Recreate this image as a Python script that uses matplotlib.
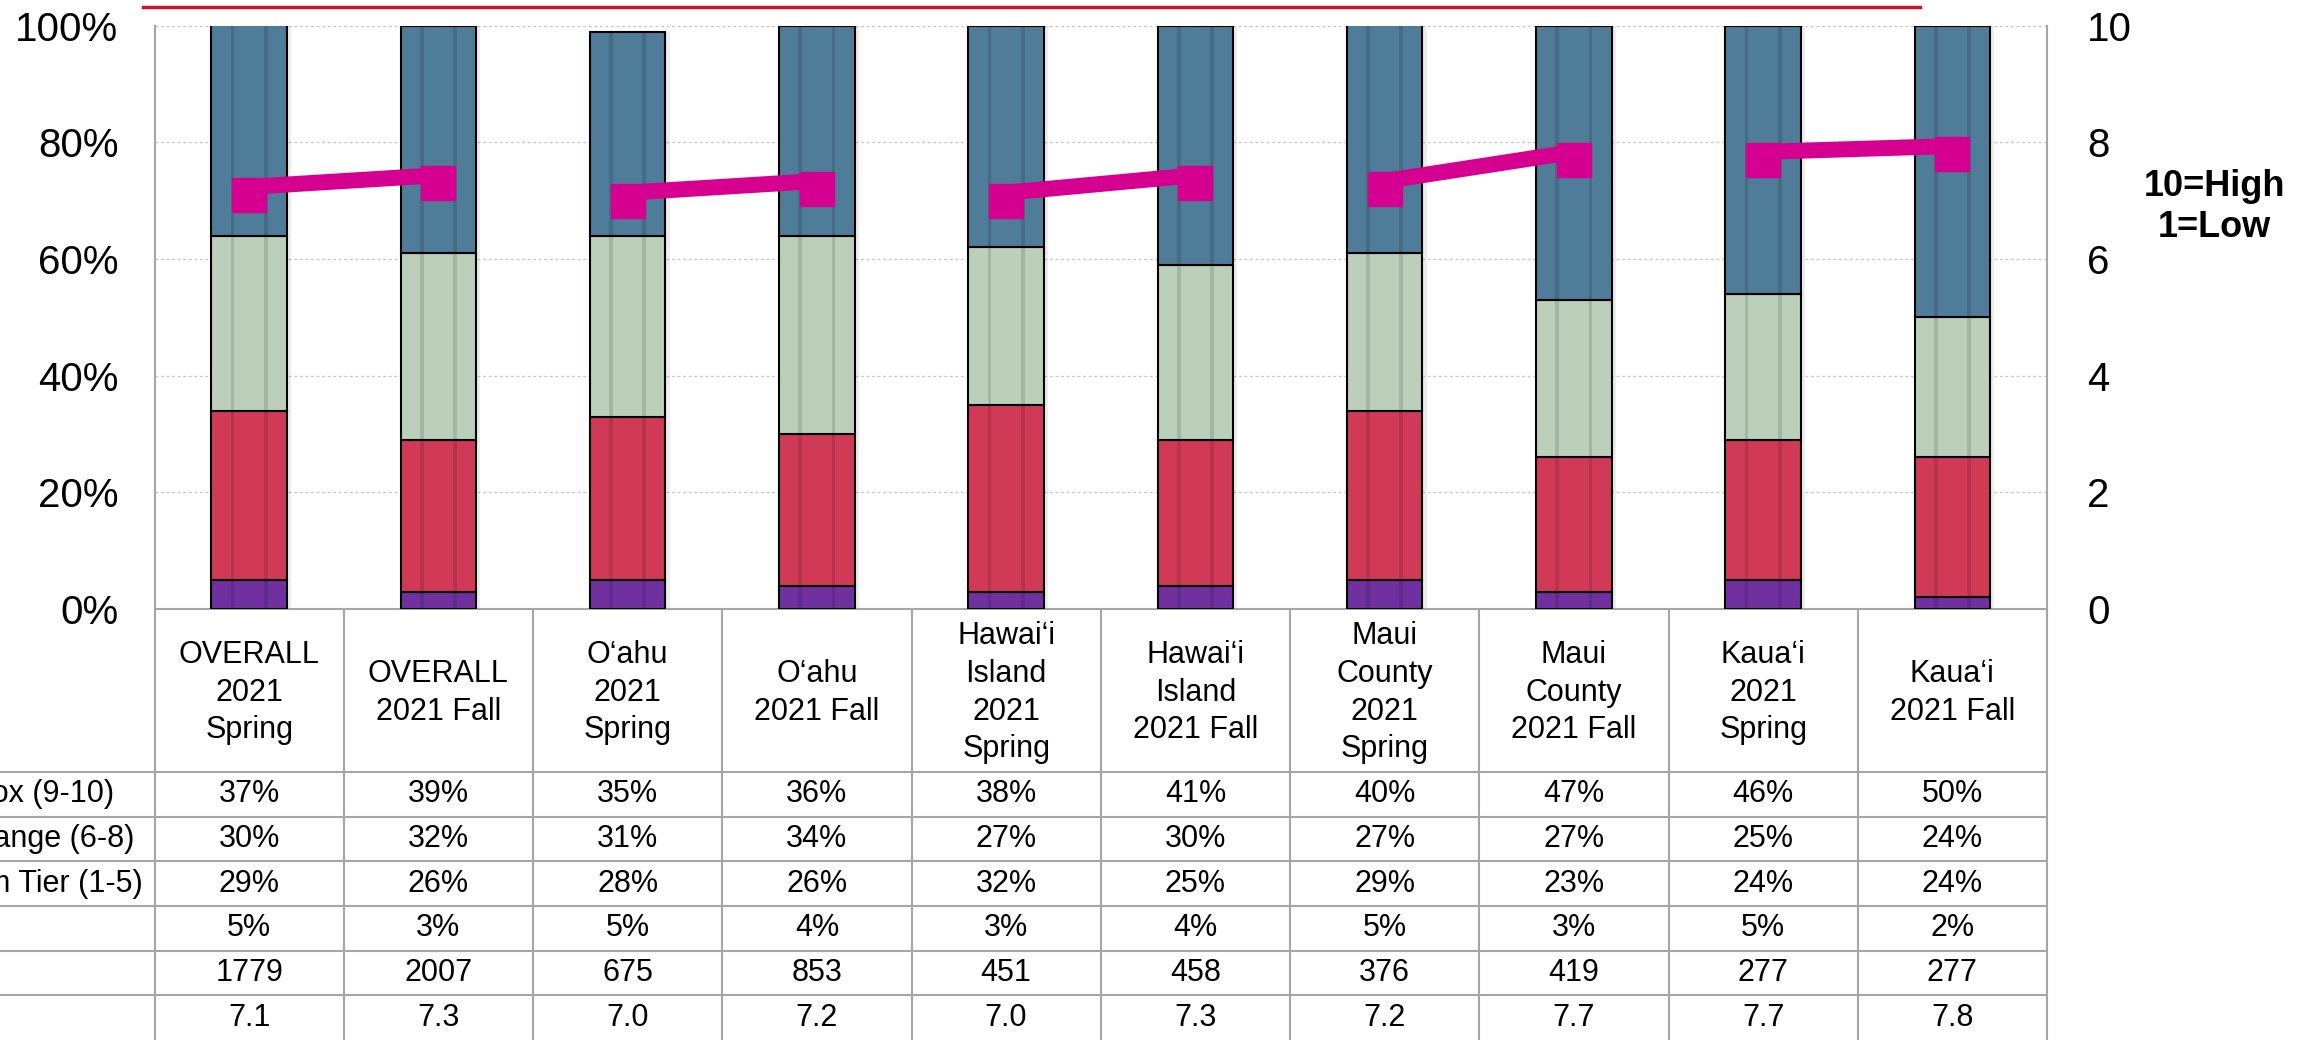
import numpy as np
import matplotlib
matplotlib.use("Agg")
import matplotlib.pyplot as plt
from matplotlib.lines import Line2D
from matplotlib.transforms import offset_copy

plt.rcParams["font.family"] = ["Liberation Sans", "DejaVu Sans"]

# data
categories = [
    "OVERALL\n2021\nSpring", "OVERALL\n2021 Fall",
    "O\u2018ahu\n2021\nSpring", "O\u2018ahu\n2021 Fall",
    "Hawai\u2018i\nIsland\n2021\nSpring", "Hawai\u2018i\nIsland\n2021 Fall",
    "Maui\nCounty\n2021\nSpring", "Maui\nCounty\n2021 Fall",
    "Kaua\u2018i\n2021\nSpring", "Kaua\u2018i\n2021 Fall",
]
top_box = [37, 39, 35, 36, 38, 41, 40, 47, 46, 50]
mid_range = [30, 32, 31, 34, 27, 30, 27, 27, 25, 24]
bottom_tier = [29, 26, 28, 26, 32, 25, 29, 23, 24, 24]
dont_know = [5, 3, 5, 4, 3, 4, 5, 3, 5, 2]
sample_n = [1779, 2007, 675, 853, 451, 458, 376, 419, 277, 277]
mean_score = [7.1, 7.3, 7.0, 7.2, 7.0, 7.3, 7.2, 7.7, 7.7, 7.8]
row_labels = ["Top Box (9-10)", "Mid Range (6-8)", "Bottom Tier (1-5)"]

C_BLUE = "#4f7c99"
C_GREEN = "#bccfbb"
C_RED = "#d13a56"
C_PURPLE = "#7030a0"
C_MAG = "#d5008f"
C_GRID = "#a6a6a6"

W, H = 2297, 1040
L, R, T, B = 154.5, 2047, 25.7, 609

fig = plt.figure(figsize=(W / 100, H / 100), dpi=100)
fig.patch.set_facecolor("white")

ax = fig.add_axes([L / W, 1 - B / H, (R - L) / W, (B - T) / H])
x = np.arange(len(categories))
bw = 0.40

# stacked bars, bottom to top
stack = [(dont_know, C_PURPLE), (bottom_tier, C_RED), (mid_range, C_GREEN), (top_box, C_BLUE)]
totals = np.sum([v for v, _ in stack], axis=0)

# soft shadow to the right of each bar
ax.bar(x + 0.022, totals, bw, color="black", alpha=0.07, linewidth=0, zorder=2)

base = np.zeros(len(x))
for vals, col in stack:
    ax.bar(x, vals, bw, bottom=base, color=col, edgecolor="black", linewidth=1.5, zorder=3)
    base = base + np.array(vals)

# faint vertical shading bands in each bar
for off in (-0.088, 0.088):
    ax.bar(x + off, totals, 0.02, color="black", alpha=0.12, linewidth=0, zorder=4)

ax.set_xlim(-0.5, len(x) - 0.5)
ax.set_ylim(0, 100)
ax.set_xticks([])
ax.set_yticks(range(0, 101, 20))
ax.set_yticklabels([f"{v}%" for v in range(0, 101, 20)], fontsize=29)
ax.tick_params(axis="y", length=0, pad=26)
ax.grid(axis="y", color="#c8c8c8", linestyle=(0, (2, 2)), linewidth=1, zorder=0)
ax.set_axisbelow(True)
ax.spines["top"].set_visible(False)
for s in ("left", "right", "bottom"):
    ax.spines[s].set_color(C_GRID)
    ax.spines[s].set_linewidth(1.5)

# mean score on right axis
ax2 = ax.twinx()
ax2.set_ylim(0, 10)
ax2.set_yticks(range(0, 11, 2))
ax2.set_yticklabels([str(v) for v in range(0, 11, 2)], fontsize=29)
ax2.tick_params(axis="y", length=0, pad=29)
for s in ax2.spines.values():
    s.set_visible(False)
line_tr = offset_copy(ax2.transData, fig=fig, x=0, y=8, units="dots")
for i in range(0, len(x), 2):
    ax2.plot(x[i:i + 2], mean_score[i:i + 2], color=C_MAG, lw=11.5,
             solid_capstyle="butt", transform=line_tr, zorder=5)
ax2.plot(x, mean_score, "s", ms=25, color=C_MAG, ls="none", zorder=6)

fig.text(2214 / W, 1 - 207 / H, "10=High\n1=Low", ha="center", va="center",
         fontsize=26, fontweight="bold", linespacing=1.2)

# red rule along the top
fig.add_artist(Line2D([143 / W, 1920 / W], [1 - 7 / H, 1 - 7 / H], color="#d2102e", lw=2.5))

# data table under the plot
ax_t = fig.add_axes([L / W, 0, (R - L) / W, (H - B) / H])
hdr = 3.65
ax_t.set_xlim(-0.5, len(x) - 0.5)
ax_t.set_ylim(hdr + 6, 0)
ax_t.axis("off")
left_edge = -0.5 - L / ((R - L) / len(x))
ax_t.vlines(np.arange(len(x) + 1) - 0.5, 0, hdr + 6, color=C_GRID, lw=1.5, clip_on=False)
ax_t.hlines(hdr + np.arange(6), left_edge, len(x) - 0.5, color=C_GRID, lw=1.5, clip_on=False)

rows = [
    [f"{v}%" for v in top_box],
    [f"{v}%" for v in mid_range],
    [f"{v}%" for v in bottom_tier],
    [f"{v}%" for v in dont_know],
    [str(v) for v in sample_n],
    [f"{v:.1f}" for v in mean_score],
]
for i, lab in enumerate(categories):
    ax_t.text(i, hdr / 2 + 0.05, lab, ha="center", va="center", fontsize=22, linespacing=1.33)
for r, vals in enumerate(rows):
    for i, v in enumerate(vals):
        ax_t.text(i, hdr + r + 0.5, v, ha="center", va="center", fontsize=22)

label_x = -0.5 + (-86 - L) / ((R - L) / len(x))
for r, lab in enumerate(row_labels):
    ax_t.text(label_x, hdr + r + 0.5, lab, ha="left", va="center", fontsize=22, clip_on=False)

fig.savefig("out.png", dpi=100)
